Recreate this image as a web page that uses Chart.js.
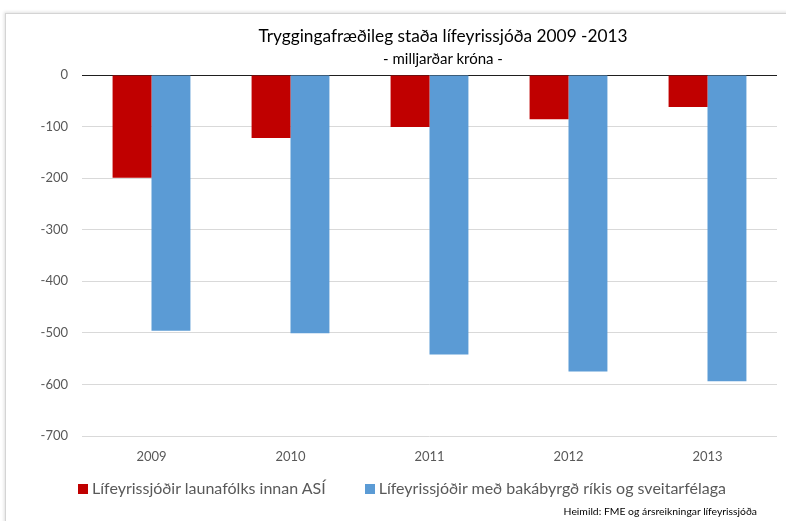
<!DOCTYPE html>
<html>
<head>
<meta charset="utf-8">
<script src="https://cdn.jsdelivr.net/npm/chart.js@4/dist/chart.umd.min.js"></script>
<style>
  body { margin: 0; background: #fff; font-family: Lato, sans-serif; }
  #wrap { position: relative; width: 786px; height: 521px; overflow: hidden; }
  #frame { position: absolute; left: 5px; top: 13px; width: 900px; height: 600px;
           border-left: 1px solid #d4d4d4; border-top: 1px solid #d4d4d4;
           box-shadow: -1px -1px 3px rgba(0,0,0,0.12); }
  canvas { position: absolute; left: 0; top: 0; }
  #title { position: absolute; left: 0; width: 886px; top: 25px; text-align: center; font-size: 17.3px; color: #000; }
  #subtitle { position: absolute; left: 0; width: 886px; top: 49px; text-align: center; font-size: 15px; color: #000; }
  #legend { position: absolute; left: 78px; top: 478px; font-size: 16px; color: #595959; white-space: nowrap; }
  #legend span.item { margin-right: 39px; }
  #legend i { display: inline-block; width: 10px; height: 10px; margin-right: 4px; vertical-align: 0px; }
  #source { position: absolute; right: 29px; top: 505px; font-size: 10.4px; color: #000; }
</style>
</head>
<body>
<div id="wrap">
  <div id="frame"></div>
  <canvas id="myChart" width="786" height="521"></canvas>
  <div id="title">Tryggingafræðileg staða lífeyrissjóða 2009 -2013</div>
  <div id="subtitle">- milljarðar króna -</div>
  <div id="legend"></div>
  <div id="source">Heimild: FME og ársreikningar lífeyrissjóða</div>
</div>
<script>
// data (milljarðar króna)
var years = ["2009", "2010", "2011", "2012", "2013"];
var asiLabel = "Lífeyrissjóðir launafólks innan ASÍ";
var asiValues = [-199, -122, -101, -86, -62];
var publicLabel = "Lífeyrissjóðir með bakábyrgð ríkis og sveitarfélaga";
var publicValues = [-496, -501, -542, -575, -594];
var yMin = -700;
var yMax = 0;
var yStep = 100;

var red = "#c00000";
var blue = "#5b9bd5";
var textGray = "#595959";

var ctx = document.getElementById("myChart").getContext("2d");
var chart = new Chart(ctx, {
  type: "bar",
  data: {
    labels: years,
    datasets: [
      { label: asiLabel, data: asiValues, backgroundColor: red, borderWidth: 0 },
      { label: publicLabel, data: publicValues, backgroundColor: blue, borderWidth: 0 }
    ]
  },
  options: {
    responsive: false,
    animation: false,
    devicePixelRatio: 1,
    layout: { padding: { top: 75, right: 9, bottom: 55, left: 0 } },
    datasets: { bar: { barPercentage: 1, categoryPercentage: 0.56 } },
    plugins: {
      legend: { display: false },
      title: { display: false },
      tooltip: { enabled: false }
    },
    scales: {
      x: {
        grid: { display: false, drawTicks: false },
        border: { display: false },
        ticks: { color: textGray, font: { family: "Lato", size: 13 }, padding: 13 },
        afterFit: function (scale) { scale.height = 30; }
      },
      y: {
        min: yMin,
        max: yMax,
        ticks: { stepSize: yStep, color: textGray, font: { family: "Lato", size: 13 }, padding: 14 },
        grid: {
          drawTicks: false,
          color: function (c) { return c.tick && c.tick.value === 0 ? "#1f1f1f" : "#d9d9d9"; },
          lineWidth: 1
        },
        border: { display: false },
        afterFit: function (scale) { scale.width = 82; }
      }
    }
  }
});

// legend built from the chart's own datasets
var legend = document.getElementById("legend");
chart.data.datasets.forEach(function (ds) {
  var item = document.createElement("span");
  item.className = "item";
  var box = document.createElement("i");
  box.style.background = ds.backgroundColor;
  item.appendChild(box);
  item.appendChild(document.createTextNode(ds.label));
  legend.appendChild(item);
});
</script>
</body>
</html>
